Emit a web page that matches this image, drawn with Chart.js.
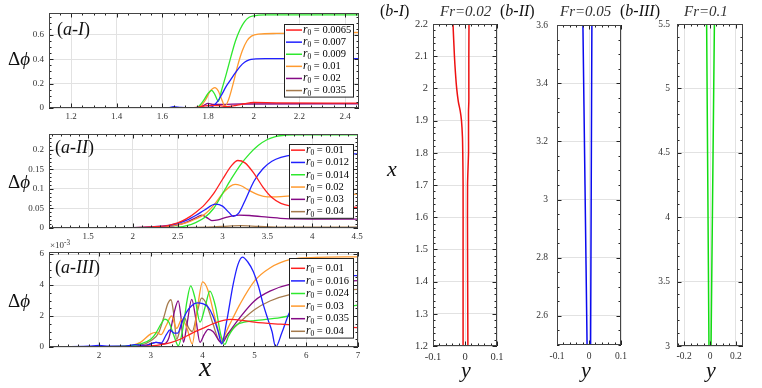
<!DOCTYPE html>
<html>
<head>
<meta charset="utf-8">
<script src="https://cdn.jsdelivr.net/npm/chart.js@4.4.0/dist/chart.umd.min.js"></script>
<style>
  body { margin: 0; background: #fff; }
  #wrap { position: relative; width: 762px; height: 388px; overflow: hidden; font-family: "Liberation Serif", "Times New Roman", serif; color: #111; }
  canvas { position: absolute; }
  .lbl { position: absolute; line-height: 1; white-space: nowrap; }
  .dphi { font-size: 19px; }
  sup { font-size: 0.8em; vertical-align: 0.45em; line-height: 0; }
</style>
</head>
<body>
<div id="wrap">
  <canvas id="cA1" width="372" height="124" style="left:0;top:0"></canvas>
  <canvas id="cA2" width="372" height="118" style="left:0;top:124px"></canvas>
  <canvas id="cA3" width="372" height="146" style="left:0;top:242px"></canvas>
  <canvas id="cB1" width="130" height="372" style="left:378px;top:8px"></canvas>
  <canvas id="cB2" width="124" height="372" style="left:508px;top:8px"></canvas>
  <canvas id="cB3" width="128" height="372" style="left:632px;top:8px"></canvas>

  <div class="lbl" style="left:57px;top:20px;font-size:18px">(<i>a-I</i>)</div>
  <div class="lbl" style="left:55px;top:138px;font-size:18px">(<i>a-II</i>)</div>
  <div class="lbl" style="left:55px;top:258px;font-size:18px">(<i>a-III</i>)</div>
  <div class="lbl dphi" style="left:8px;top:49px">Δ<i>ϕ</i></div>
  <div class="lbl dphi" style="left:8px;top:172px">Δ<i>ϕ</i></div>
  <div class="lbl dphi" style="left:8px;top:291px">Δ<i>ϕ</i></div>
  <div class="lbl" style="left:50px;top:241px;font-size:9px;color:#333">×10<sup>-3</sup></div>
  <div class="lbl" style="left:199px;top:353px;font-size:28px"><i>x</i></div>

  <div class="lbl" style="left:380px;top:3px;font-size:16px">(<i>b-I</i>)</div>
  <div class="lbl" style="left:440px;top:4px;font-size:15px;color:#333"><i>Fr=0.02</i></div>
  <div class="lbl" style="left:500px;top:3px;font-size:16px">(<i>b-II</i>)</div>
  <div class="lbl" style="left:560px;top:4px;font-size:15px;color:#333"><i>Fr=0.05</i></div>
  <div class="lbl" style="left:620px;top:3px;font-size:16px">(<i>b-III</i>)</div>
  <div class="lbl" style="left:684px;top:4px;font-size:15px;color:#333"><i>Fr=0.1</i></div>
  <div class="lbl" style="left:387px;top:158px;font-size:22px"><i>x</i></div>
  <div class="lbl" style="left:461px;top:359px;font-size:22px"><i>y</i></div>
  <div class="lbl" style="left:581px;top:359px;font-size:22px"><i>y</i></div>
  <div class="lbl" style="left:706px;top:359px;font-size:22px"><i>y</i></div>
</div>
<script>
// colours shared by the three left panels
const COLORS = ['#ff2020', '#2020ff', '#2ee82e', '#ff9a2e', '#850a85', '#a57a4c'];

// (a-I)
const a1Labels = ['0.0065', '0.007', '0.009', '0.01', '0.02', '0.035'];
const a1XTicks = [1.2, 1.4, 1.6, 1.8, 2, 2.2, 2.4];
const a1YTicks = [0, 0.2, 0.4, 0.6];
const a1RedX = [1.1, 1.7, 1.75, 1.8, 1.85, 1.88, 1.92, 1.96, 2.0, 2.1, 2.46];
const a1RedY = [0, 0, 0.005, 0.02, 0.02, 0.012, 0.02, 0.035, 0.045, 0.042, 0.04];
const a1BlueX = [1.1, 1.62, 1.65, 1.68, 1.72, 1.8, 1.82, 1.84, 1.86, 1.88, 1.9, 1.92, 1.94, 1.96, 1.98, 2.0, 2.05, 2.46];
const a1BlueY = [0, 0, 0.012, 0.004, 0, 0.005, 0.012, 0.05, 0.11, 0.18, 0.235, 0.29, 0.34, 0.375, 0.395, 0.402, 0.405, 0.405];
const a1GreenX = [1.1, 1.74, 1.76, 1.78, 1.8, 1.816, 1.83, 1.845, 1.86, 1.88, 1.9, 1.92, 1.94, 1.96, 1.98, 2.0, 2.05, 2.46];
const a1GreenY = [0, 0, 0.015, 0.06, 0.12, 0.145, 0.11, 0.055, 0.15, 0.28, 0.42, 0.55, 0.645, 0.71, 0.745, 0.757, 0.764, 0.765];
const a1OrangeX = [1.1, 1.75, 1.77, 1.79, 1.81, 1.83, 1.845, 1.86, 1.874, 1.89, 1.91, 1.93, 1.95, 1.97, 1.99, 2.02, 2.1, 2.46];
const a1OrangeY = [0, 0, 0.02, 0.07, 0.14, 0.168, 0.14, 0.07, 0.015, 0.07, 0.2, 0.35, 0.47, 0.55, 0.59, 0.607, 0.612, 0.62];
const a1PurpleX = [1.1, 1.74, 1.78, 1.8, 1.82, 1.86, 1.95, 2.46];
const a1PurpleY = [0, 0, 0.02, 0.038, 0.03, 0.03, 0.033, 0.035];
const a1BrownX = [1.1, 1.8, 2.46];
const a1BrownY = [0, 0.002, 0.002];

// (a-II)
const a2Labels = ['0.01', '0.012', '0.014', '0.02', '0.03', '0.04'];
const a2XTicks = [1.5, 2, 2.5, 3, 3.5, 4, 4.5];
const a2YTicks = [0, 0.05, 0.1, 0.15, 0.2];
const a2RedX = [1.065, 2.0, 2.2, 2.4, 2.5, 2.6, 2.7, 2.8, 2.9, 3.0, 3.1, 3.17, 3.25, 3.35, 3.45, 3.55, 3.65, 3.75, 3.9, 4.2, 4.51];
const a2RedY = [0, 0.001, 0.003, 0.007, 0.013, 0.024, 0.04, 0.06, 0.088, 0.125, 0.16, 0.173, 0.167, 0.14, 0.105, 0.078, 0.063, 0.057, 0.055, 0.054, 0.053];
const a2BlueX = [1.065, 2.0, 2.2, 2.4, 2.5, 2.6, 2.7, 2.8, 2.92, 3.0, 3.07, 3.12, 3.18, 3.25, 3.35, 3.45, 3.55, 3.65, 3.8, 4.0, 4.51];
const a2BlueY = [0, 0.001, 0.003, 0.007, 0.012, 0.02, 0.032, 0.046, 0.061, 0.056, 0.04, 0.03, 0.038, 0.07, 0.12, 0.152, 0.171, 0.181, 0.188, 0.19, 0.19];
const a2GreenX = [1.065, 2.3, 2.5, 2.6, 2.7, 2.8, 2.9, 3.0, 3.1, 3.2, 3.3, 3.4, 3.5, 3.6, 3.7, 3.8, 4.51];
const a2GreenY = [0, 0, 0.002, 0.006, 0.014, 0.027, 0.05, 0.088, 0.127, 0.162, 0.19, 0.212, 0.227, 0.235, 0.238, 0.239, 0.239];
const a2OrangeX = [1.065, 2.0, 2.2, 2.4, 2.5, 2.6, 2.7, 2.8, 2.9, 3.0, 3.08, 3.14, 3.2, 3.3, 3.4, 3.5, 3.6, 3.8, 4.0, 4.51];
const a2OrangeY = [0, 0.001, 0.002, 0.005, 0.008, 0.014, 0.023, 0.035, 0.058, 0.088, 0.106, 0.112, 0.109, 0.096, 0.085, 0.08, 0.08, 0.083, 0.085, 0.087];
const a2PurpleX = [1.065, 2.2, 2.4, 2.5, 2.6, 2.7, 2.77, 2.83, 2.88, 2.95, 3.05, 3.18, 3.3, 3.5, 3.7, 4.0, 4.51];
const a2PurpleY = [0, 0.001, 0.004, 0.008, 0.015, 0.026, 0.033, 0.026, 0.019, 0.021, 0.028, 0.033, 0.032, 0.028, 0.024, 0.023, 0.023];
const a2BrownX = [1.065, 2.4, 2.8, 3.0, 3.2, 3.4, 3.7, 4.51];
const a2BrownY = [0, 0.001, 0.002, 0.004, 0.006, 0.004, 0.002, 0.002];

// (a-III), values in units of 1e-3
const a3Labels = ['0.01', '0.016', '0.024', '0.03', '0.035', '0.04'];
const a3XTicks = [2, 3, 4, 5, 6, 7];
const a3YTicks = [0, 2, 4, 6];
const a3RedX = [1.035, 2.5, 2.8, 3.0, 3.2, 3.4, 3.6, 3.8, 4.0, 4.2, 4.4, 4.55, 4.8, 5.0, 5.5, 6.0, 6.5, 7.0];
const a3RedY = [0, 0.01, 0.03, 0.07, 0.15, 0.3, 0.55, 0.9, 1.2, 1.5, 1.72, 1.78, 1.7, 1.6, 1.47, 1.37, 1.3, 1.25];
const a3BlueX = [1.035, 1.8, 2.0, 2.2, 2.5, 2.7, 2.9, 3.0, 3.1, 3.2, 3.3, 3.37, 3.45, 3.52, 3.6, 3.7, 3.8, 3.9, 4.0, 4.1,
  4.2, 4.3, 4.37, 4.46, 4.59, 4.68, 4.77, 4.87, 4.98, 5.08, 5.17, 5.26, 5.34, 5.41, 5.53, 5.66, 5.8, 6.0, 6.3, 6.7, 7.0];
const a3BlueY = [0, 0.05, 0.1, 0.05, 0.05, 0.15, 0.1, 0.2, 0.3, 0.25, 0.8, 1.1, 0.9, 0.9, 1.6, 2.3, 2.7, 2.85, 2.8, 2.6,
  2.0, 1.0, 0.2, 1.57, 4.04, 5.3, 5.8, 5.5, 4.85, 3.9, 2.75, 1.8, 1.0, 0.0, 0.92, 2.1, 3.0, 3.8, 4.4, 4.6, 4.6];
const a3GreenX = [1.035, 2.5, 2.8, 3.0, 3.1, 3.2, 3.27, 3.35, 3.45, 3.53, 3.62, 3.7, 3.77, 3.85, 3.95, 4.05, 4.14, 4.25, 4.35, 4.43,
  4.5, 4.65, 4.8, 5.0, 5.5, 6.0, 6.5, 7.0];
const a3GreenY = [0, 0.05, 0.2, 0.5, 0.9, 1.5, 1.8, 1.6, 0.7, 0.08, 1.2, 3.0, 3.95, 3.2, 1.6, 2.6, 3.6, 2.6, 0.8, 0.17,
  0.7, 1.4, 1.6, 1.7, 1.9, 2.2, 2.5, 2.7];
const a3OrangeX = [1.035, 2.5, 2.8, 3.0, 3.1, 3.2, 3.3, 3.4, 3.5, 3.6, 3.7, 3.8, 3.9, 4.0, 4.1, 4.2, 4.3, 4.37, 4.5, 4.72, 5.0, 5.3, 5.7, 6.2, 7.0];
const a3OrangeY = [0, 0.05, 0.3, 0.85, 0.95, 0.8, 1.4, 2.0, 1.2, 1.8, 1.2, 0.2, 2.5, 4.2, 3.7, 2.4, 1.1, 0.5, 1.3, 2.75, 4.25, 5.1, 5.65, 5.78, 5.82];
const a3PurpleX = [1.035, 2.5, 2.9, 3.1, 3.25, 3.35, 3.45, 3.53, 3.58, 3.63, 3.7, 3.79, 3.87, 3.95, 4.03, 4.11, 4.2, 4.37, 4.5, 4.72, 5.0, 5.3, 5.7, 6.2, 7.0];
const a3PurpleY = [0, 0.03, 0.1, 0.3, 0.2, 0.6, 2.2, 2.97, 2.0, 0.3, 1.5, 3.07, 1.8, 0.3, 0.8, 1.14, 1.0, 0.25, 0.9, 1.9, 2.97, 3.6, 4.05, 4.2, 4.28];
const a3BrownX = [1.035, 2.5, 2.8, 3.0, 3.15, 3.25, 3.33, 3.39, 3.44, 3.5, 3.57, 3.65, 3.72, 3.8, 3.9, 3.98, 4.07, 4.2, 4.34, 4.5, 4.72, 5.0, 5.3, 5.7, 6.2, 7.0];
const a3BrownY = [0, 0.02, 0.1, 0.4, 0.9, 1.9, 2.8, 3.05, 2.2, 0.5, 1.2, 1.9, 1.3, 1.0, 2.3, 3.15, 2.8, 1.5, 0.35, 0.9, 1.6, 2.4, 2.97, 3.4, 3.6, 3.72];

// (b-I..III): positions along x (vertical) and the two edges in y
const b1X = [1.2, 1.5, 1.7, 1.8, 1.85, 1.9, 1.93, 1.96, 2.0, 2.05, 2.1, 2.2];
const b1Left = [-0.006, -0.006, -0.006, -0.007, -0.008, -0.011, -0.015, -0.021, -0.026, -0.03, -0.033, -0.0375];
const b1Right = [0.009, 0.008, 0.008, 0.011, 0.011, 0.011, 0.011, 0.012, 0.012, 0.012, 0.012, 0.0125];
const b1YTicks = [1.2, 1.3, 1.4, 1.5, 1.6, 1.7, 1.8, 1.9, 2, 2.1, 2.2];
const b1XTicks = [-0.1, 0, 0.1];
const b2X = [2.5, 3.05, 3.6];
const b2Left = [-0.006, -0.0125, -0.019];
const b2Right = [0.005, 0.007, 0.009];
const b2YTicks = [2.6, 2.8, 3, 3.2, 3.4, 3.6];
const b2XTicks = [-0.1, 0, 0.1];
const b3X = [3, 4.25, 5.5];
const b3Left = [-0.008, -0.017, -0.026];
const b3Right = [0.008, 0.021, 0.034];
const b3YTicks = [3, 3.5, 4, 4.5, 5, 5.5];
const b3XTicks = [-0.2, 0, 0.2];

Chart.defaults.font.family = '"Liberation Serif", "Times New Roman", serif';
Chart.defaults.color = '#333';

function fmt(v) { return String(Math.round(v * 1000) / 1000); }

// frame with inward ticks on all four sides
const frameTicks = {
    id: 'frameTicks',
    afterDraw(chart, args, o) {
        const { ctx, chartArea: a, scales } = chart;
        ctx.save();
        ctx.strokeStyle = '#222';
        ctx.lineWidth = 1;
        ctx.beginPath();
        const mark = (sc, step, horiz) => {
            const majors = sc.ticks.map(t => t.value);
            const n0 = Math.ceil(sc.min / step - 1e-6), n1 = Math.floor(sc.max / step + 1e-6);
            for (let n = n0; n <= n1; n++) {
                const v = n * step;
                const len = majors.some(m => Math.abs(m - v) < step / 10) ? 4.5 : 2.5;
                const p = Math.round(sc.getPixelForValue(v)) + 0.5;
                if (horiz) {
                    ctx.moveTo(p, a.bottom); ctx.lineTo(p, a.bottom - len);
                    ctx.moveTo(p, a.top); ctx.lineTo(p, a.top + len);
                } else {
                    ctx.moveTo(a.left, p); ctx.lineTo(a.left + len, p);
                    ctx.moveTo(a.right, p); ctx.lineTo(a.right - len, p);
                }
            }
        };
        mark(scales.x, o.xMinor, true);
        mark(scales.y, o.yMinor, false);
        ctx.stroke();
        ctx.strokeStyle = '#444';
        ctx.strokeRect(Math.round(a.left) + 0.5, Math.round(a.top) + 0.5, Math.round(a.width) - 1, Math.round(a.height) - 1);
        ctx.restore();
    }
};

// boxed legend inside the plot, one row per dataset
const boxLegend = {
    id: 'boxLegend',
    afterDatasetsDraw(chart, args, o) {
        if (!o || !o.width) return;
        const { ctx, chartArea: a } = chart;
        const ds = chart.data.datasets;
        const w = o.width, h = o.padTop + ds.length * o.row + o.padBottom;
        const x0 = Math.round(a.right - o.right - w), y0 = Math.round(a.top + o.top);
        ctx.save();
        ctx.fillStyle = '#fff';
        ctx.fillRect(x0, y0, w, h);
        ctx.strokeStyle = '#222';
        ctx.lineWidth = 1;
        ctx.strokeRect(x0 + 0.5, y0 + 0.5, w, h);
        ds.forEach((d, i) => {
            const cy = y0 + o.padTop + o.row * (i + 0.5);
            ctx.strokeStyle = d.borderColor;
            ctx.lineWidth = 1.5;
            ctx.beginPath();
            ctx.moveTo(x0 + 2, cy); ctx.lineTo(x0 + 2 + o.line, cy);
            ctx.stroke();
            let tx = x0 + 3 + o.line;
            ctx.fillStyle = '#000';
            ctx.textBaseline = 'middle';
            ctx.font = 'italic 11.5px "Liberation Serif"';
            ctx.fillText('r', tx, cy);
            tx += ctx.measureText('r').width;
            ctx.font = '7.5px "Liberation Serif"';
            ctx.fillText('0', tx, cy + 3);
            tx += ctx.measureText('0').width;
            ctx.font = '10.5px "Liberation Serif"';
            ctx.fillText(' = ' + d.label, tx, cy);
        });
        ctx.restore();
    }
};

function pts(xs, ys) { return xs.map((x, i) => ({ x: x, y: ys[i] })); }

function curve(label, color, xs, ys) {
    return { label: label, data: pts(xs, ys), borderColor: color, borderWidth: 1.3, pointRadius: 0,
        showLine: true, fill: false, tension: 0.4, cubicInterpolationMode: 'monotone' };
}

// for the b panels: horizontal is y, vertical is x
function edge(color, xs, ys) {
    return { label: '', data: xs.map((x, i) => ({ x: ys[i], y: x })), borderColor: color, borderWidth: 1.5,
        pointRadius: 0, showLine: true, fill: false, tension: 0.3 };
}

function makePanel(id, datasets, p) {
    const zero = s => { s.paddingTop = 0; s.paddingBottom = 0; s.paddingLeft = 0; s.paddingRight = 0; };
    return new Chart(document.getElementById(id), {
        type: 'scatter',
        data: { datasets: datasets },
        options: {
            responsive: false,
            animation: false,
            events: [],
            layout: { padding: { top: p.padT, right: p.padR, left: 0, bottom: 0 } },
            plugins: {
                legend: { display: false },
                tooltip: { enabled: false },
                frameTicks: { xMinor: p.xMinor, yMinor: p.yMinor },
                boxLegend: p.legend || false
            },
            scales: {
                x: {
                    type: 'linear', position: 'bottom', min: p.xMin, max: p.xMax,
                    afterBuildTicks: s => { s.ticks = p.xTicks.map(v => ({ value: v })); },
                    afterFit: s => { s.height = p.xH; zero(s); },
                    grid: { color: '#e2e2e2', drawTicks: false },
                    border: { display: false },
                    ticks: { autoSkip: false, maxRotation: 0, padding: p.xPad, font: { size: p.fs }, callback: fmt }
                },
                y: {
                    type: 'linear', position: 'left', min: p.yMin, max: p.yMax,
                    afterBuildTicks: s => { s.ticks = p.yTicks.map(v => ({ value: v })); },
                    afterFit: s => { s.width = p.yW; zero(s); },
                    grid: { color: '#e2e2e2', drawTicks: false },
                    border: { display: false },
                    ticks: { autoSkip: false, padding: p.yPad, font: { size: p.fs }, callback: fmt }
                }
            }
        },
        plugins: [frameTicks, boxLegend]
    });
}

const a1Data = [[a1RedX, a1RedY], [a1BlueX, a1BlueY], [a1GreenX, a1GreenY], [a1OrangeX, a1OrangeY], [a1PurpleX, a1PurpleY], [a1BrownX, a1BrownY]];
const a2Data = [[a2RedX, a2RedY], [a2BlueX, a2BlueY], [a2GreenX, a2GreenY], [a2OrangeX, a2OrangeY], [a2PurpleX, a2PurpleY], [a2BrownX, a2BrownY]];
const a3Data = [[a3RedX, a3RedY], [a3BlueX, a3BlueY], [a3GreenX, a3GreenY], [a3OrangeX, a3OrangeY], [a3PurpleX, a3PurpleY], [a3BrownX, a3BrownY]];

makePanel('cA1', a1Data.map((d, i) => curve(a1Labels[i], COLORS[i], d[0], d[1])), {
    padT: 13, padR: 13, yW: 49, xH: 16, xMin: 1.1036, xMax: 2.461, yMin: 0, yMax: 0.78,
    xTicks: a1XTicks, yTicks: a1YTicks, xMinor: 0.05, yMinor: 0.05, xPad: 3, yPad: 5, fs: 9,
    legend: { right: 6, top: 11, width: 69, row: 12.1, padTop: 0, padBottom: 0, line: 16 }
});
makePanel('cA2', a2Data.map((d, i) => curve(a2Labels[i], COLORS[i], d[0], d[1])), {
    padT: 10, padR: 14, yW: 49, xH: 14, xMin: 1.065, xMax: 4.51, yMin: 0, yMax: 0.241,
    xTicks: a2XTicks, yTicks: a2YTicks, xMinor: 0.1, yMinor: 0.01, xPad: 3, yPad: 5, fs: 9,
    legend: { right: 5, top: 10, width: 64, row: 12.3, padTop: 0, padBottom: 0, line: 14 }
});
makePanel('cA3', a3Data.map((d, i) => curve(a3Labels[i], COLORS[i], d[0], d[1])), {
    padT: 10, padR: 14, yW: 49, xH: 41, xMin: 1.035, xMax: 7, yMin: 0, yMax: 6.13,
    xTicks: a3XTicks, yTicks: a3YTicks, xMinor: 0.2, yMinor: 0.5, xPad: 3, yPad: 5, fs: 9,
    legend: { right: 5, top: 6, width: 64, row: 12.6, padTop: 4, padBottom: 0, line: 14 }
});
makePanel('cB1', [edge('#ee1111', b1X, b1Left), edge('#ee1111', b1X, b1Right)], {
    padT: 16, padR: 11, yW: 55, xH: 34, xMin: -0.1, xMax: 0.1, yMin: 1.2, yMax: 2.2,
    xTicks: b1XTicks, yTicks: b1YTicks, xMinor: 0.02, yMinor: 0.02, xPad: 5, yPad: 5, fs: 10.5
});
makePanel('cB2', [edge('#0a0aee', b2X, b2Left), edge('#0a0aee', b2X, b2Right)], {
    padT: 17, padR: 11, yW: 49, xH: 35, xMin: -0.1, xMax: 0.1, yMin: 2.5, yMax: 3.6,
    xTicks: b2XTicks, yTicks: b2YTicks, xMinor: 0.02, yMinor: 0.05, xPad: 6, yPad: 9, fs: 9.5
});
makePanel('cB3', [edge('#11dd11', b3X, b3Left), edge('#11dd11', b3X, b3Right)], {
    padT: 16, padR: 17, yW: 45, xH: 34, xMin: -0.255, xMax: 0.255, yMin: 3, yMax: 5.5,
    xTicks: b3XTicks, yTicks: b3YTicks, xMinor: 0.05, yMinor: 0.1, xPad: 5, yPad: 7, fs: 9.5
});
</script>
</body>
</html>
